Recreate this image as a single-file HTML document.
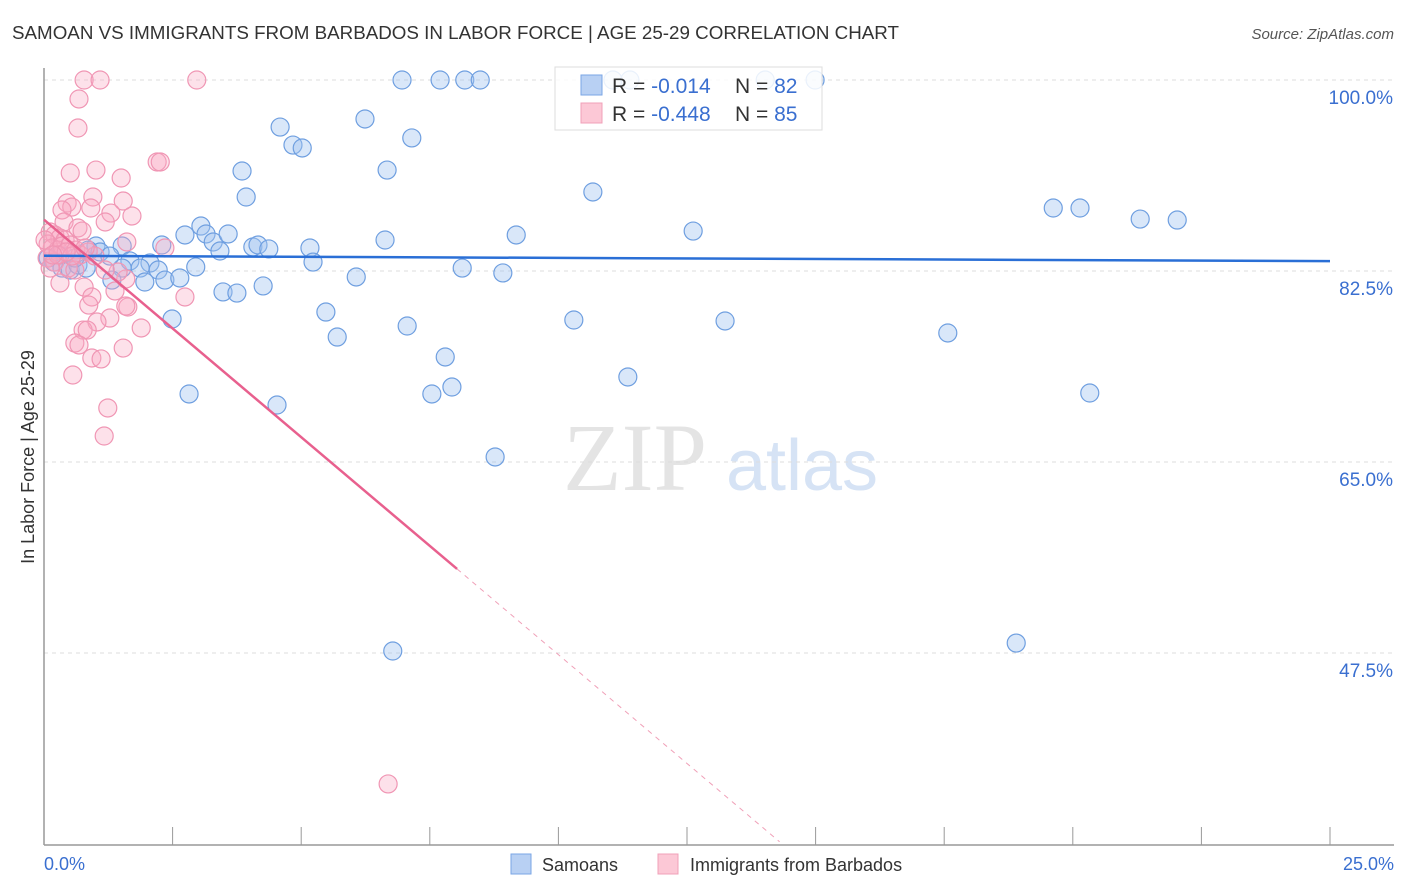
<!DOCTYPE html>
<html><head><meta charset="utf-8"><style>
body{margin:0;background:#fff;font-family:"Liberation Sans",sans-serif;}
svg{display:block}
</style></head><body>
<svg width="1406" height="892" xmlns="http://www.w3.org/2000/svg">
<text x="12" y="39" font-size="18" fill="#333" textLength="887" lengthAdjust="spacingAndGlyphs">SAMOAN VS IMMIGRANTS FROM BARBADOS IN LABOR FORCE | AGE 25-29 CORRELATION CHART</text>
<text x="1394" y="39" font-size="15" fill="#555" font-style="italic" text-anchor="end">Source: ZipAtlas.com</text>
<g><text x="635" y="490" font-size="96" fill="#e4e4e4" font-family="Liberation Serif,serif" text-anchor="middle">ZIP</text><text x="802" y="490" font-size="72" fill="#d6e3f5" text-anchor="middle">atlas</text></g>
<g id="grid"></g>
<line x1="44" y1="68" x2="44" y2="845" stroke="#999" stroke-width="1.5"/>
<line x1="44" y1="845" x2="1394" y2="845" stroke="#999" stroke-width="1.5"/>
<g id="xticks"></g>
<text transform="translate(34,457) rotate(-90)" font-size="18" fill="#333" text-anchor="middle">In Labor Force | Age 25-29</text>
<text x="44" y="870" font-size="18" fill="#3a6fd0">0.0%</text>
<text x="1394" y="870" font-size="18" fill="#3a6fd0" text-anchor="end">25.0%</text>
<g id="pts"></g>
<g id="lines"></g>
<g>
<rect x="555" y="67" width="267" height="63" fill="rgba(255,255,255,0.85)" stroke="#ddd"/>
<rect x="581" y="75" width="21" height="20" fill="#b8d0f3" stroke="#7aa6e6"/>
<rect x="581" y="103" width="21" height="20" fill="#fcc8d6" stroke="#f0a0b8"/>
<text x="612" y="93" font-size="21" fill="#333">R = <tspan fill="#3a6fd0">-0.014</tspan><tspan x="735">N = </tspan><tspan fill="#3a6fd0">82</tspan></text>
<text x="612" y="121" font-size="21" fill="#333">R = <tspan fill="#3a6fd0">-0.448</tspan><tspan x="735">N = </tspan><tspan fill="#3a6fd0">85</tspan></text>
</g>
<g>
<rect x="511" y="854" width="20" height="20" fill="#b8d0f3" stroke="#7aa6e6"/>
<text x="542" y="871" font-size="18" fill="#333">Samoans</text>
<rect x="658" y="854" width="20" height="20" fill="#fcc8d6" stroke="#f0a0b8"/>
<text x="690" y="871" font-size="18" fill="#333">Immigrants from Barbados</text>
</g>
</svg>
<script>
const yTicks=[100,82.5,65,47.5];
const yTickLabels=["100.0%","82.5%","65.0%","47.5%"];
const bluePx=[[402,80],[440,80],[465,80],[480,80],[613,80],[630,80],[765,80],[815,80],[280,127],[365,119],[293,145],[302,148],[412,138],[242,171],[387,170],[246,197],[593,192],[1053,208],[1080,208],[1140,219],[1177,220],[201,226],[185,235],[206,234],[213,242],[228,234],[220,251],[253,247],[258,245],[269,249],[310,248],[313,262],[385,240],[516,235],[693,231],[162,245],[122,246],[96,246],[88,250],[100,252],[130,261],[150,263],[140,268],[158,270],[122,268],[112,280],[145,282],[165,280],[180,278],[196,267],[223,292],[237,293],[263,286],[356,277],[462,268],[503,273],[54,262],[62,268],[70,270],[78,265],[86,268],[48,258],[60,255],[75,258],[110,256],[172,319],[326,312],[337,337],[407,326],[574,320],[725,321],[948,333],[445,357],[628,377],[432,394],[452,387],[189,394],[277,405],[1090,393],[495,457],[393,651],[1016,643]];
const pinkPx=[[84,80],[100,80],[197,80],[79,99],[78,128],[157,162],[160,162],[96,170],[70,173],[121,178],[93,197],[67,203],[72,207],[62,210],[91,208],[123,201],[111,213],[132,216],[105,222],[64,222],[78,228],[82,231],[50,232],[55,235],[60,238],[65,240],[48,244],[52,248],[58,250],[62,246],[70,245],[76,250],[80,255],[88,252],[95,256],[127,242],[165,248],[47,258],[55,262],[68,268],[75,270],[50,268],[60,283],[84,287],[126,279],[118,272],[105,270],[115,291],[185,297],[92,297],[89,305],[128,307],[126,306],[110,318],[97,322],[83,330],[87,330],[141,328],[75,343],[79,345],[123,348],[92,358],[101,359],[73,375],[108,408],[104,436],[388,784],[58,255],[72,256],[66,252],[45,240],[53,255],[85,248]];
const toX=p=>(p-44)/51.44, toY=p=>100-(p-80)/10.914;
const samoanX=bluePx.map(p=>+toX(p[0]).toFixed(2)), samoanY=bluePx.map(p=>+toY(p[1]).toFixed(2));
const barbX=pinkPx.map(p=>+toX(p[0]).toFixed(2)), barbY=pinkPx.map(p=>+toY(p[1]).toFixed(2));
const samoanTrend=[[0,83.9],[25,83.4]];
const barbTrend=[[0,87.2],[8.03,55.2],[14.3,30.2]];
const xs=v=>44+v*51.44, ys=v=>80+(100-v)*10.914;
const NS="http://www.w3.org/2000/svg";
function mk(t,a,parent){const e=document.createElementNS(NS,t);for(const k in a)e.setAttribute(k,a[k]);document.getElementById(parent).appendChild(e);return e;}
yTicks.forEach((v,i)=>{
 const g=mk('line',{x1:44,x2:1394,y1:ys(v),y2:ys(v),stroke:'#ddd','stroke-dasharray':'4,4'},'grid');
 
 
 const t=mk('text',{x:1393,y:ys(v)+24,'font-size':19,fill:'#3a6fd0','text-anchor':'end'},'grid');
 t.textContent=yTickLabels[i];
 
 
});
for(let i=0;i<=10;i++){
 const l=mk('line',{x1:xs(i*2.5),x2:xs(i*2.5),y1:827,y2:845,stroke:'#999'},'xticks');
 
 
}
samoanX.forEach((x,i)=>{
 const c=mk('circle',{cx:xs(x),cy:ys(samoanY[i]),r:9,fill:'rgba(160,196,240,0.4)',stroke:'#6f9fe0','stroke-width':1.2},'pts');
 
 
});
barbX.forEach((x,i)=>{
 const c=mk('circle',{cx:xs(x),cy:ys(barbY[i]),r:9,fill:'rgba(248,170,195,0.35)',stroke:'#f096b4','stroke-width':1.2},'pts');
 
 
});
let l=mk('line',{x1:xs(samoanTrend[0][0]),y1:ys(samoanTrend[0][1]),x2:xs(samoanTrend[1][0]),y2:ys(samoanTrend[1][1]),stroke:'#2a6fd6','stroke-width':2.5},'lines');


l=mk('line',{x1:xs(barbTrend[0][0]),y1:ys(barbTrend[0][1]),x2:xs(barbTrend[1][0]),y2:ys(barbTrend[1][1]),stroke:'#e8608e','stroke-width':2.5},'lines');


l=mk('line',{x1:xs(barbTrend[1][0]),y1:ys(barbTrend[1][1]),x2:xs(barbTrend[2][0]),y2:ys(barbTrend[2][1]),stroke:'#f0a0b8','stroke-width':1,'stroke-dasharray':'5,5'},'lines');


</script>
</body></html>
